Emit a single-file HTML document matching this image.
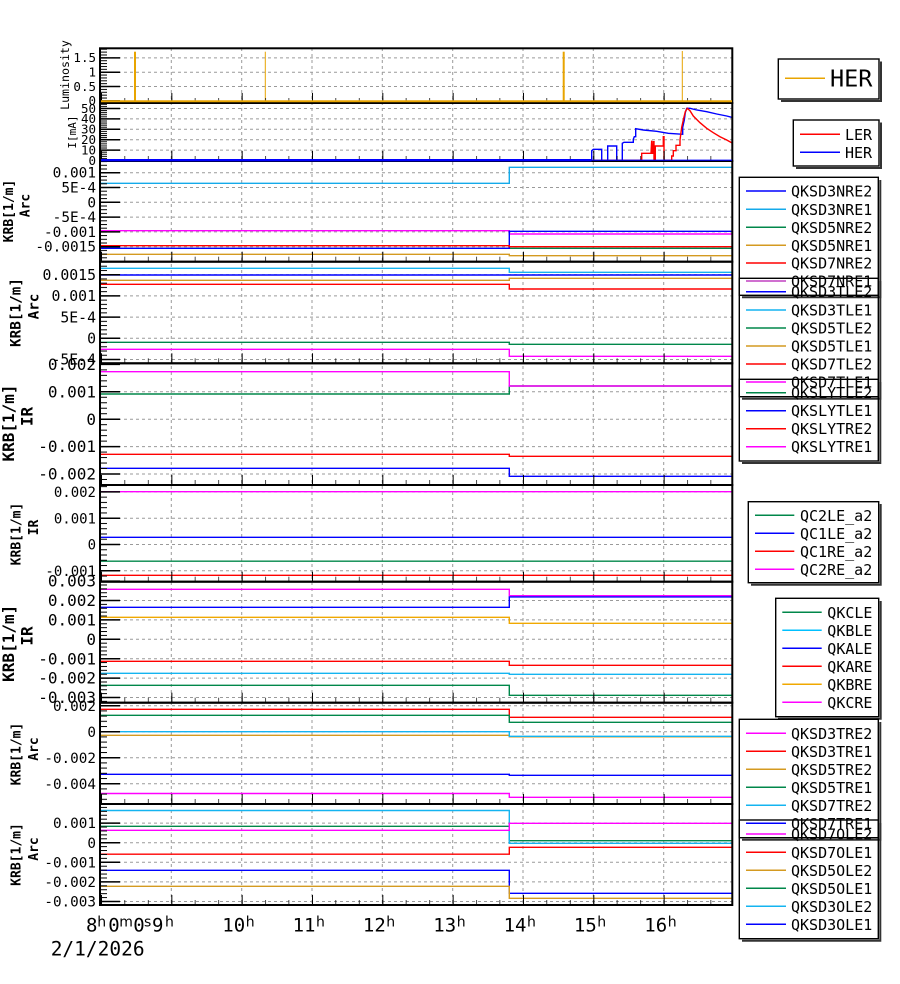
<!DOCTYPE html>
<html><head><meta charset="utf-8"><style>
html,body{margin:0;padding:0;background:#fff;}
svg{display:block;}
text{font-family:"DejaVu Sans Mono","Liberation Mono",monospace;fill:#000;}
.tl{text-anchor:end;}
.g{stroke:#9a9a9a;stroke-width:1;stroke-dasharray:3,3;fill:none;}
.d{fill:none;stroke-width:1.4;}
.lg{font-size:15px;}
.sup text{font-family:"DejaVu Sans","Liberation Sans",sans-serif;font-size:14px;}
</style></head><body>
<svg width="900" height="984" viewBox="0 0 900 984" xmlns="http://www.w3.org/2000/svg">
<defs>
<pattern id="xmin" x="101" y="0" width="23.443" height="1000" patternUnits="userSpaceOnUse"><rect x="-0.6" y="0" width="1.3" height="1000" fill="#000"/></pattern>
<pattern id="xmaj" x="101" y="0" width="70.33" height="1000" patternUnits="userSpaceOnUse"><rect x="-0.9" y="0" width="1.9" height="1000" fill="#000"/></pattern>
<pattern id="p1" x="100" y="100.4" width="10" height="2.87" patternUnits="userSpaceOnUse"><rect x="0" y="0" width="7" height="1" fill="#000"/></pattern>
<pattern id="p2" x="100" y="160" width="10" height="2.08" patternUnits="userSpaceOnUse"><rect x="0" y="0" width="7" height="1" fill="#000"/></pattern>
<pattern id="p3" x="100" y="201.8" width="10" height="3.7" patternUnits="userSpaceOnUse"><rect x="0" y="0" width="7" height="1" fill="#000"/></pattern>
<pattern id="p4" x="100" y="337.8" width="10" height="4.24" patternUnits="userSpaceOnUse"><rect x="0" y="0" width="7" height="1" fill="#000"/></pattern>
<pattern id="p5" x="100" y="418.7" width="10" height="5.48" patternUnits="userSpaceOnUse"><rect x="0" y="0" width="7" height="1" fill="#000"/></pattern>
<pattern id="p6" x="100" y="544" width="10" height="5.26" patternUnits="userSpaceOnUse"><rect x="0" y="0" width="7" height="1" fill="#000"/></pattern>
<pattern id="p7" x="100" y="638.8" width="10" height="3.88" patternUnits="userSpaceOnUse"><rect x="0" y="0" width="7" height="1" fill="#000"/></pattern>
<pattern id="p8" x="100" y="731.2" width="10" height="5.2" patternUnits="userSpaceOnUse"><rect x="0" y="0" width="7" height="1" fill="#000"/></pattern>
<pattern id="p9" x="100" y="842.2" width="10" height="3.92" patternUnits="userSpaceOnUse"><rect x="0" y="0" width="7" height="1" fill="#000"/></pattern>
</defs>
<rect x="0" y="0" width="900" height="984" fill="#fff"/>

<!-- vertical grid -->
<path class="g" d="M171.3 48V905 M241.7 48V905 M312 48V905 M382.3 48V905 M452.7 48V905 M523 48V905 M593.3 48V905 M663.7 48V905"/>
<!-- horizontal grid -->
<path class="g" d="
M100 57.85H732 M100 72.2H732 M100 86.55H732
M100 108.5H732 M100 118.9H732 M100 129.3H732 M100 139.7H732 M100 150.1H732
M100 172.7H732 M100 187.5H732 M100 202.3H732 M100 217.1H732 M100 231.9H732 M100 246.7H732
M100 274.7H732 M100 295.9H732 M100 317.1H732 M100 338.3H732 M100 359.5H732
M100 391.8H732 M100 419.2H732 M100 446.6H732 M100 474H732
M100 491.9H732 M100 518.2H732 M100 544.5H732 M100 570.8H732
M100 600.5H732 M100 619.9H732 M100 639.3H732 M100 658.7H732 M100 678.1H732 M100 697.5H732
M100 705.7H732 M100 731.7H732 M100 757.7H732 M100 783.7H732
M100 823.1H732 M100 842.7H732 M100 862.3H732 M100 881.9H732 M100 901.5H732"/>

<!-- P1 luminosity -->
<line x1="135" y1="101.3" x2="135" y2="51.7" stroke="#e8a400" stroke-width="2"/>
<line x1="265.3" y1="101.3" x2="265.3" y2="51.7" stroke="#e8a400" stroke-width="1"/>
<line x1="563.7" y1="101.3" x2="563.7" y2="51.7" stroke="#e8a400" stroke-width="2"/>
<line x1="682.3" y1="101.3" x2="682.3" y2="51" stroke="#e8a400" stroke-width="1"/>

<!-- P2 currents -->
<polyline class="d" stroke="#0000ff" stroke-width="2" points="101,160.3 591.7,160.3 591.7,150.7 593.3,149.3 601.7,149.3 601.7,160.3 607.7,160.3 607.7,146 616.7,146 616.7,160.3 622.3,160.3 622.3,143.3 624,142.3 633.3,142.3 633.3,139.3 634.3,136.7 635.7,136.7 635.7,128.7 643.3,130 656.7,131.3 668.3,133.3 682.7,134.3 682.7,127.3 684.3,120 685.3,112.7 686.7,108.3 690,108.3 696.7,110 706.7,111.7 716.7,114 726.7,116 731.7,117.3"/>
<polyline class="d" stroke="#ff0000" points="591,160.3 641.7,160.3 641.7,153.3 651,153.3 651.7,140.7 652.3,153.3 653.3,153.3 653.3,141.7 654,141.7 654,160.3 655.3,160.3 655.3,146 663.3,146 663.3,136.7 664,136.7 664,160.3 671.7,160.3 671.7,156 673.3,156 673.3,150.7 676,150.7 676,145.3 680,145.3 680,140 681.7,127.3 683.7,118.3 685.3,111.7 687.3,108.3 690,110.7 693.3,116 700,122.7 706.7,128.3 713.3,132.7 720,136.7 726.7,140 731.7,142.7"/>

<!-- P3 -->
<path class="d" stroke="#14aaea" d="M101 183.3H509.3V167.3H732"/>
<path class="d" stroke="#ff00ff" d="M101 230.7H509.3V234H732"/>
<path class="d" stroke="#00874a" d="M101 248.3H732"/>
<path class="d" stroke="#0000ff" d="M101 248.3H509.3V231.3H732"/>
<path class="d" stroke="#ff0000" d="M101 245.7H509.3V246.7H732"/>
<path class="d" stroke="#d49a20" d="M101 254.3H509.3V255.7H732"/>

<!-- P4 -->
<path class="d" stroke="#14b4f0" d="M101 268.3H509.3V272.3H732"/>
<path class="d" stroke="#0000ff" d="M101 275H732"/>
<path class="d" stroke="#d49a20" d="M101 280.3H509.3V278.3H732"/>
<path class="d" stroke="#ff0000" d="M101 284.3H509.3V289H732"/>
<path class="d" stroke="#00874a" d="M101 342.3H509.3V344.3H732"/>
<path class="d" stroke="#ff00ff" d="M101 349.3H509.3V356.3H732"/>

<!-- P5 -->
<path class="d" stroke="#00874a" d="M101 394H509.3V386H732"/>
<path class="d" stroke="#ff00ff" d="M101 371.7H509.3V386H732"/>
<path class="d" stroke="#ff0000" d="M101 454.3H509.3V456.3H732"/>
<path class="d" stroke="#0000ff" d="M101 468.3H509.3V476.3H732"/>

<!-- P6 -->
<path class="d" stroke="#ff00ff" d="M101 491.7H732"/>
<path class="d" stroke="#0000ff" d="M101 537.3H732"/>
<path class="d" stroke="#00874a" d="M101 561.2H732"/>
<path class="d" stroke="#ff0000" d="M101 575.3H732"/>

<!-- P7 -->
<path class="d" stroke="#ff00ff" d="M101 589.3H509.3V595.7H732"/>
<path class="d" stroke="#0000ff" d="M101 607.3H509.3V596.9H732"/>
<path class="d" stroke="#f0a800" d="M101 617.3H509.3V623.3H732"/>
<path class="d" stroke="#ff0000" d="M101 661.3H509.3V665.3H732"/>
<path class="d" stroke="#14b4f0" d="M101 673.3H509.3V674.3H732"/>
<path class="d" stroke="#00874a" d="M101 685.3H509.3V695.3H732"/>

<!-- P8 -->
<path class="d" stroke="#ff0000" d="M101 709.3H509.3V717.3H732"/>
<path class="d" stroke="#00874a" d="M101 715.3H509.3V722.3H732"/>
<path class="d" stroke="#d49a20" d="M101 735.3H509.3V736.8H732"/>
<path class="d" stroke="#14b4f0" d="M101 731.7H509.3V736.3H732"/>
<path class="d" stroke="#0000ff" d="M101 774.3H509.3V775.3H732"/>
<path class="d" stroke="#ff00ff" d="M101 793.5H509.3V797.3H732"/>

<!-- P9 -->
<path class="d" stroke="#00874a" d="M101 826.3H509.3V840.7H732"/>
<path class="d" stroke="#14b4f0" d="M101 810.5H509.3V843.3H732"/>
<path class="d" stroke="#ff00ff" d="M101 830.3H509.3V823.3H732"/>
<path class="d" stroke="#ff0000" d="M101 854.2H509.3V847.3H732"/>
<path class="d" stroke="#0000ff" d="M101 870.3H509.3V893.3H732"/>
<path class="d" stroke="#d49a20" d="M101 886.3H509.3V898.3H732"/>

<!-- y minor ticks -->
<rect x="100" y="48.3" width="7" height="54.7" fill="url(#p1)"/>
<rect x="100" y="103" width="7" height="58" fill="url(#p2)"/>
<rect x="100" y="161" width="7" height="100.7" fill="url(#p3)"/>
<rect x="100" y="261.7" width="7" height="101.6" fill="url(#p4)"/>
<rect x="100" y="363.3" width="7" height="121.7" fill="url(#p5)"/>
<rect x="100" y="485" width="7" height="96.7" fill="url(#p6)"/>
<rect x="100" y="581.7" width="7" height="121" fill="url(#p7)"/>
<rect x="100" y="702.7" width="7" height="101.3" fill="url(#p8)"/>
<rect x="100" y="804" width="7" height="101" fill="url(#p9)"/>

<!-- y major ticks -->
<path stroke="#000" stroke-width="1.5" fill="none" d="
M100 57.85H120 M100 72.2H120 M100 86.55H120 M100 100.9H120
M100 108.5H120 M100 118.9H120 M100 129.3H120 M100 139.7H120 M100 150.1H120 M100 160.5H120
M100 172.7H120 M100 187.5H120 M100 202.3H120 M100 217.1H120 M100 231.9H120 M100 246.7H120
M100 274.7H120 M100 295.9H120 M100 317.1H120 M100 338.3H120 M100 359.5H120
M100 364.4H120 M100 391.8H120 M100 419.2H120 M100 446.6H120 M100 474H120
M100 491.9H120 M100 518.2H120 M100 544.5H120 M100 570.8H120
M100 581.1H120 M100 600.5H120 M100 619.9H120 M100 639.3H120 M100 658.7H120 M100 678.1H120 M100 697.5H120
M100 705.7H120 M100 731.7H120 M100 757.7H120 M100 783.7H120
M100 823.1H120 M100 842.7H120 M100 862.3H120 M100 881.9H120 M100 901.5H120"/>

<!-- x ticks per panel -->
<g>
<rect x="100" y="98" width="632" height="5" fill="url(#xmin)"/><rect x="100" y="93" width="632" height="10" fill="url(#xmaj)"/>
<rect x="100" y="156" width="632" height="5" fill="url(#xmin)"/><rect x="100" y="151" width="632" height="10" fill="url(#xmaj)"/>
<rect x="100" y="256.7" width="632" height="5" fill="url(#xmin)"/><rect x="100" y="251.7" width="632" height="10" fill="url(#xmaj)"/>
<rect x="100" y="358.3" width="632" height="5" fill="url(#xmin)"/><rect x="100" y="353.3" width="632" height="10" fill="url(#xmaj)"/>
<rect x="100" y="480" width="632" height="5" fill="url(#xmin)"/><rect x="100" y="475" width="632" height="10" fill="url(#xmaj)"/>
<rect x="100" y="576.7" width="632" height="5" fill="url(#xmin)"/><rect x="100" y="571.7" width="632" height="10" fill="url(#xmaj)"/>
<rect x="100" y="697.7" width="632" height="5" fill="url(#xmin)"/><rect x="100" y="692.7" width="632" height="10" fill="url(#xmaj)"/>
<rect x="100" y="799" width="632" height="5" fill="url(#xmin)"/><rect x="100" y="794" width="632" height="10" fill="url(#xmaj)"/>
<rect x="100" y="900" width="632" height="5" fill="url(#xmin)"/><rect x="100" y="895" width="632" height="10" fill="url(#xmaj)"/>
</g>

<!-- frames -->
<g fill="none" stroke="#000" stroke-width="2">
<rect x="100" y="48.3" width="632.3" height="54.7"/>
<rect x="100" y="103" width="632.3" height="58"/>
<rect x="100" y="161" width="632.3" height="100.7"/>
<rect x="100" y="261.7" width="632.3" height="101.6"/>
<rect x="100" y="363.3" width="632.3" height="121.7"/>
<rect x="100" y="485" width="632.3" height="96.7"/>
<rect x="100" y="581.7" width="632.3" height="121"/>
<rect x="100" y="702.7" width="632.3" height="101.3"/>
<rect x="100" y="804" width="632.3" height="101"/>
</g>

<!-- zero lines drawn over frame -->
<line x1="101" y1="101.3" x2="732" y2="101.3" stroke="#e8a400" stroke-width="2"/>
<line x1="101" y1="160.2" x2="591.7" y2="160.2" stroke="#0000ff" stroke-width="2.4"/>
<line x1="591.7" y1="160.2" x2="732" y2="160.2" stroke="#0000ff" stroke-width="1.2"/>

<!-- y tick labels -->
<g class="tl" style="font-size:12.5px">
<text x="96" y="62.2">1.5</text><text x="96" y="76.5">1</text><text x="96" y="90.9">0.5</text><text x="96" y="105.2">0</text>
<text x="96" y="112.8">50</text><text x="96" y="123.2">40</text><text x="96" y="133.6">30</text><text x="96" y="144">20</text><text x="96" y="154.4">10</text><text x="96" y="164.8">0</text>
</g>
<g class="tl" style="font-size:14.4px">
<text x="96" y="177.7">0.001</text><text x="96" y="192.5">5E-4</text><text x="96" y="207.3">0</text><text x="96" y="222.1">-5E-4</text><text x="96" y="236.9">-0.001</text><text x="96" y="251.7">-0.0015</text>
</g>
<g class="tl" style="font-size:14.8px">
<text x="96" y="279.9">0.0015</text><text x="96" y="301.1">0.001</text><text x="96" y="322.3">5E-4</text><text x="96" y="343.5">0</text><text x="96" y="364.7">-5E-4</text>
</g>
<g class="tl" style="font-size:16px">
<text x="96" y="370">0.002</text><text x="96" y="397.4">0.001</text><text x="96" y="424.8">0</text><text x="96" y="452.2">-0.001</text><text x="96" y="479.6">-0.002</text>
</g>
<g class="tl" style="font-size:14px">
<text x="96" y="497">0.002</text><text x="96" y="523.3">0.001</text><text x="96" y="549.6">0</text><text x="96" y="575.9">-0.001</text>
</g>
<g class="tl" style="font-size:16px">
<text x="96" y="586.7">0.003</text><text x="96" y="606.1">0.002</text><text x="96" y="625.5">0.001</text><text x="96" y="644.9">0</text><text x="96" y="664.3">-0.001</text><text x="96" y="683.7">-0.002</text><text x="96" y="703.1">-0.003</text>
</g>
<g class="tl" style="font-size:14.3px">
<text x="96" y="710.8">0.002</text><text x="96" y="736.8">0</text><text x="96" y="762.8">-0.002</text><text x="96" y="788.8">-0.004</text>
<text x="96" y="828.2">0.001</text><text x="96" y="847.8">0</text><text x="96" y="867.4">-0.001</text><text x="96" y="887">-0.002</text><text x="96" y="906.6">-0.003</text>
</g>

<!-- y axis titles -->
<g style="text-anchor:middle">
<text transform="translate(69,75) rotate(-90)" style="font-size:11.6px">Luminosity</text>
<text transform="translate(76,132) rotate(-90)" style="font-size:11px">I[mA]</text>
<text transform="translate(13,211) rotate(-90)" style="font-size:13px;font-weight:bold">KRB[1/m]</text>
<text transform="translate(29.5,205.5) rotate(-90)" style="font-size:13px;font-weight:bold">Arc</text>
<text transform="translate(20.7,312.5) rotate(-90)" style="font-size:14.3px;font-weight:bold">KRB[1/m]</text>
<text transform="translate(38.3,306.5) rotate(-90)" style="font-size:14.3px;font-weight:bold">Arc</text>
<text transform="translate(14,423) rotate(-90)" style="font-size:16px;font-weight:bold">KRB[1/m]</text>
<text transform="translate(32.3,416.5) rotate(-90)" style="font-size:16px;font-weight:bold">IR</text>
<text transform="translate(20.5,534) rotate(-90)" style="font-size:13px;font-weight:bold">KRB[1/m]</text>
<text transform="translate(37.8,527.5) rotate(-90)" style="font-size:13px;font-weight:bold">IR</text>
<text transform="translate(14,643.3) rotate(-90)" style="font-size:16px;font-weight:bold">KRB[1/m]</text>
<text transform="translate(32.3,636) rotate(-90)" style="font-size:16px;font-weight:bold">IR</text>
<text transform="translate(20.5,754) rotate(-90)" style="font-size:13px;font-weight:bold">KRB[1/m]</text>
<text transform="translate(37.8,749) rotate(-90)" style="font-size:13px;font-weight:bold">Arc</text>
<text transform="translate(20.5,854.5) rotate(-90)" style="font-size:13px;font-weight:bold">KRB[1/m]</text>
<text transform="translate(37.8,849) rotate(-90)" style="font-size:13px;font-weight:bold">Arc</text>
</g>

<!-- x labels -->
<g style="font-size:19px">
<text x="86" y="931.7">8</text><text x="108.3" y="931.7">0</text><text x="133.3" y="931.7">0</text>
<text x="163.5" y="931.7" style="text-anchor:end">9</text>
<text x="245.2" y="931.7" style="text-anchor:end">10</text>
<text x="315.5" y="931.7" style="text-anchor:end">11</text>
<text x="385.8" y="931.7" style="text-anchor:end">12</text>
<text x="456.2" y="931.7" style="text-anchor:end">13</text>
<text x="526.5" y="931.7" style="text-anchor:end">14</text>
<text x="596.8" y="931.7" style="text-anchor:end">15</text>
<text x="667.2" y="931.7" style="text-anchor:end">16</text>
<text x="50.7" y="955.5" style="font-size:19.5px">2/1/2026</text>
</g>
<g class="sup">
<text x="97.3" y="926.7">h</text><text x="119.3" y="926.7">m</text><text x="144" y="926.7">s</text>
<text x="165" y="926.7">h</text>
<text x="245.7" y="926.7">h</text><text x="316" y="926.7">h</text><text x="386.3" y="926.7">h</text><text x="456.7" y="926.7">h</text>
<text x="527" y="926.7">h</text><text x="597.3" y="926.7">h</text><text x="667.7" y="926.7">h</text>
</g>

<!-- legends -->
<g fill="none" stroke="#333" stroke-width="2">
<path d="M881 61.5V101H781"/>
<path d="M881 122.5V168H796"/>
<path d="M880.3 180V297.3H742"/>
<path d="M880.3 281V398.7H742"/>
<path d="M880.3 382V463H742"/>
<path d="M880.7 504V584.7H751"/>
<path d="M880.7 601V718.7H778"/>
<path d="M880.3 722V839.7H742"/>
<path d="M880.3 823V940.7H742"/>
</g>
<g fill="none" stroke="#000" stroke-width="1.4">
<rect x="778.3" y="59" width="100.7" height="40"/>
<rect x="793.3" y="120" width="85.7" height="46"/>
<rect x="739.3" y="177.3" width="139" height="118"/>
<rect x="739.3" y="278.3" width="139" height="118.4"/>
<rect x="739.3" y="379.3" width="139" height="81.7"/>
<rect x="748.3" y="501.7" width="130.4" height="81"/>
<rect x="775.7" y="598.3" width="103" height="118.4"/>
<rect x="739.3" y="719.3" width="139" height="118.4"/>
<rect x="739.3" y="820" width="139" height="118.7"/>
</g>

<line x1="785" y1="78.3" x2="825" y2="78.3" stroke="#e8a400" stroke-width="1.5"/>
<text x="830" y="86.7" style="font-size:23.5px">HER</text>

<g stroke-width="1.5">
<line x1="800" y1="134.3" x2="840" y2="134.3" stroke="#ff0000"/>
<line x1="800" y1="152.3" x2="840" y2="152.3" stroke="#0000ff"/>
</g>
<g class="lg"><text x="845" y="139.8">LER</text><text x="845" y="157.8">HER</text></g>

<!-- L3 -->
<g stroke-width="1.5">
<line x1="746" y1="191" x2="786" y2="191" stroke="#0000ff"/>
<line x1="746" y1="209.3" x2="786" y2="209.3" stroke="#14aaea"/>
<line x1="746" y1="227.3" x2="786" y2="227.3" stroke="#00874a"/>
<line x1="746" y1="245.3" x2="786" y2="245.3" stroke="#d49a20"/>
<line x1="746" y1="263" x2="786" y2="263" stroke="#ff0000"/>
<line x1="746" y1="281" x2="786" y2="281" stroke="#c040c0"/>
</g>
<g class="lg">
<text x="791" y="196.5">QKSD3NRE2</text><text x="791" y="214.8">QKSD3NRE1</text><text x="791" y="232.8">QKSD5NRE2</text>
<text x="791" y="250.8">QKSD5NRE1</text><text x="791" y="268.5">QKSD7NRE2</text><text x="791" y="286.5">QKSD7NRE1</text>
</g>
<!-- L4 -->
<g stroke-width="1.5">
<line x1="746" y1="291.7" x2="786" y2="291.7" stroke="#0000ff"/>
<line x1="746" y1="310" x2="786" y2="310" stroke="#14b4f0"/>
<line x1="746" y1="328" x2="786" y2="328" stroke="#00874a"/>
<line x1="746" y1="346" x2="786" y2="346" stroke="#d49a20"/>
<line x1="746" y1="364" x2="786" y2="364" stroke="#ff0000"/>
<line x1="746" y1="382" x2="786" y2="382" stroke="#ff00ff"/>
</g>
<g class="lg">
<text x="791" y="297.2">QKSD3TLE2</text><text x="791" y="315.5">QKSD3TLE1</text><text x="791" y="333.5">QKSD5TLE2</text>
<text x="791" y="351.5">QKSD5TLE1</text><text x="791" y="369.5">QKSD7TLE2</text><text x="791" y="387.5">QKSD7TLE1</text>
</g>
<!-- L5 -->
<g stroke-width="1.5">
<line x1="746" y1="392.7" x2="786" y2="392.7" stroke="#00874a"/>
<line x1="746" y1="410.7" x2="786" y2="410.7" stroke="#0000ff"/>
<line x1="746" y1="428.7" x2="786" y2="428.7" stroke="#ff0000"/>
<line x1="746" y1="446.7" x2="786" y2="446.7" stroke="#ff00ff"/>
</g>
<g class="lg">
<text x="791" y="398.2">QKSLYTLE2</text><text x="791" y="416.2">QKSLYTLE1</text><text x="791" y="434.2">QKSLYTRE2</text><text x="791" y="452.2">QKSLYTRE1</text>
</g>
<!-- L6 -->
<g stroke-width="1.5">
<line x1="755" y1="515.3" x2="794.3" y2="515.3" stroke="#00874a"/>
<line x1="755" y1="533.3" x2="794.3" y2="533.3" stroke="#0000ff"/>
<line x1="755" y1="551.3" x2="794.3" y2="551.3" stroke="#ff0000"/>
<line x1="755" y1="569.3" x2="794.3" y2="569.3" stroke="#ff00ff"/>
</g>
<g class="lg">
<text x="800" y="520.8">QC2LE_a2</text><text x="800" y="538.8">QC1LE_a2</text><text x="800" y="556.8">QC1RE_a2</text><text x="800" y="574.8">QC2RE_a2</text>
</g>
<!-- L7 -->
<g stroke-width="1.5">
<line x1="782.3" y1="612.3" x2="821.7" y2="612.3" stroke="#00874a"/>
<line x1="782.3" y1="630.3" x2="821.7" y2="630.3" stroke="#00c0ff"/>
<line x1="782.3" y1="648.3" x2="821.7" y2="648.3" stroke="#0000ff"/>
<line x1="782.3" y1="666.3" x2="821.7" y2="666.3" stroke="#ff0000"/>
<line x1="782.3" y1="684.3" x2="821.7" y2="684.3" stroke="#f0a800"/>
<line x1="782.3" y1="702.3" x2="821.7" y2="702.3" stroke="#ff00ff"/>
</g>
<g class="lg">
<text x="827.3" y="617.8">QKCLE</text><text x="827.3" y="635.8">QKBLE</text><text x="827.3" y="653.8">QKALE</text>
<text x="827.3" y="671.8">QKARE</text><text x="827.3" y="689.8">QKBRE</text><text x="827.3" y="707.8">QKCRE</text>
</g>
<!-- L8 -->
<g stroke-width="1.5">
<line x1="746" y1="733.3" x2="786" y2="733.3" stroke="#ff00ff"/>
<line x1="746" y1="751.3" x2="786" y2="751.3" stroke="#ff0000"/>
<line x1="746" y1="769.3" x2="786" y2="769.3" stroke="#d49a20"/>
<line x1="746" y1="787.3" x2="786" y2="787.3" stroke="#00874a"/>
<line x1="746" y1="805.3" x2="786" y2="805.3" stroke="#14b4f0"/>
<line x1="746" y1="823.3" x2="786" y2="823.3" stroke="#0000ff"/>
</g>
<g class="lg">
<text x="791" y="738.8">QKSD3TRE2</text><text x="791" y="756.8">QKSD3TRE1</text><text x="791" y="774.8">QKSD5TRE2</text>
<text x="791" y="792.8">QKSD5TRE1</text><text x="791" y="810.8">QKSD7TRE2</text><text x="791" y="828.8">QKSD7TRE1</text>
</g>
<!-- L9 -->
<g stroke-width="1.5">
<line x1="746" y1="834" x2="786" y2="834" stroke="#ff00ff"/>
<line x1="746" y1="852.3" x2="786" y2="852.3" stroke="#ff0000"/>
<line x1="746" y1="870.3" x2="786" y2="870.3" stroke="#d49a20"/>
<line x1="746" y1="888.3" x2="786" y2="888.3" stroke="#00874a"/>
<line x1="746" y1="906.3" x2="786" y2="906.3" stroke="#14b4f0"/>
<line x1="746" y1="924.3" x2="786" y2="924.3" stroke="#0000ff"/>
</g>
<g class="lg">
<text x="791" y="839.5">QKSD7OLE2</text><text x="791" y="857.8">QKSD7OLE1</text><text x="791" y="875.8">QKSD5OLE2</text>
<text x="791" y="893.8">QKSD5OLE1</text><text x="791" y="911.8">QKSD3OLE2</text><text x="791" y="929.8">QKSD3OLE1</text>
</g>
</svg>
</body></html>
